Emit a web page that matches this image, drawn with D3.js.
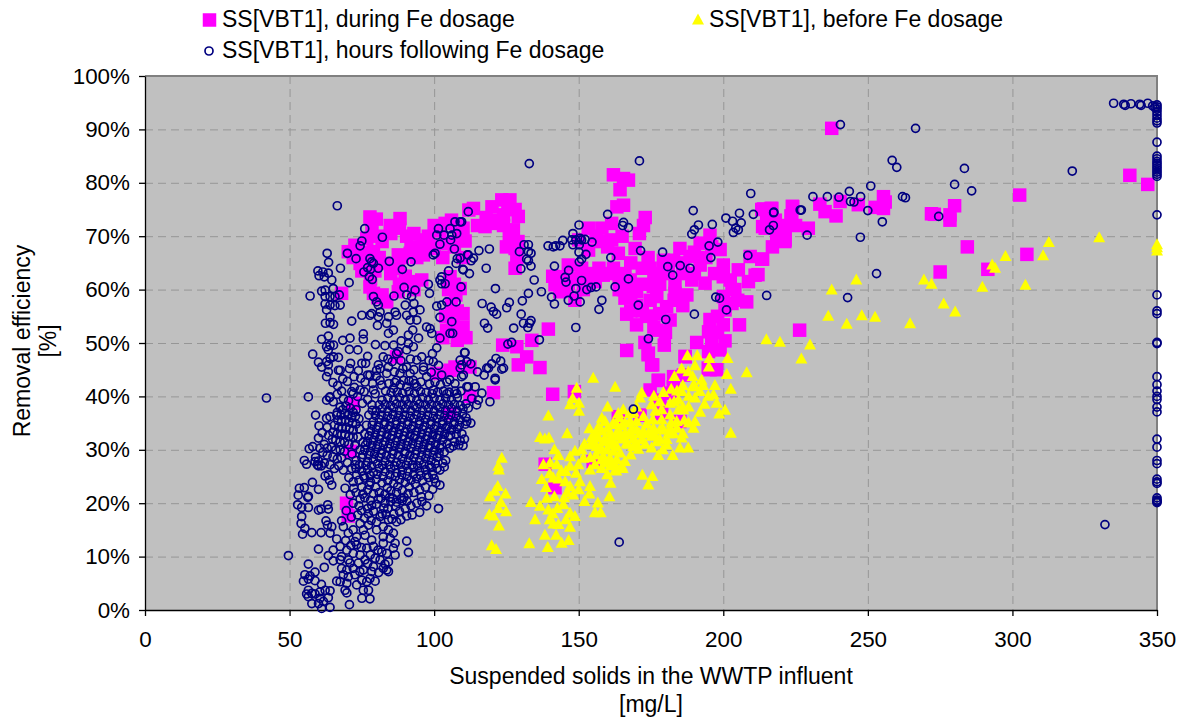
<!DOCTYPE html>
<html><head><meta charset="utf-8">
<script src="https://d3js.org/d3.v7.min.js"></script>
<style>html,body{margin:0;padding:0;background:#fff}svg{display:block}text{font-family:"Liberation Sans",Arial,sans-serif;fill:#000}</style>
</head><body><svg id="c" width="1183" height="717"></svg>
<script>
const seriesNames=["SS[VBT1], during Fe dosage","SS[VBT1], before Fe dosage","SS[VBT1], hours following Fe dosage"];
const xTickValues=[0,50,100,150,200,250,300,350];
const yTickValues=[0,10,20,30,40,50,60,70,80,90,100];
const xTitle=["Suspended solids in the WWTP influent","[mg/L]"];
const yTitle=["Removal efficiency","[%]"];
const during=[[237.5,90.2],[340.6,81.4],[346.8,79.7],[302.5,77.7],[284.4,68],[305,66.6],[291.5,63.8],[275,63.3],[226.4,52.4],[280,75.7],[278.4,74],[278.4,73],[272,74.2],[273,74.1],[255.4,77.4],[256,76.4],[255.4,75.2],[252.5,75.4],[246.7,75.9],[240.4,76.5],[239,73.8],[235.2,74.6],[233.4,76],[229.4,71.5],[223.9,75.6],[223.4,73.8],[216.5,75.2],[213.9,75.1],[221.3,71.8],[219.6,71.2],[218.5,70],[221.3,69],[213.6,71.8],[213.6,65.7],[212,62.8],
[162,81.5],[165.5,80.8],[167.2,80.5],[164.3,78.7],[163.2,75.5],[165.5,75.8],[173,73.5],[172.4,72],[171,70.5],[113.6,75.2],[120,75.5],[123.4,76.8],[126.2,76.8],[124,74],[129.1,73.7],[117.6,71.8],[120.5,72.4],[127.4,71.2],[110.7,69.1],[128,67.7],[128.6,65.9],[153.3,71.5],[158,71.5],[161.4,72.4],[161.4,69.3],[163.7,66.8],[169.5,67.7],[153.4,67.4],[150,69.3],[146.4,64.6],[141.8,60.9],[144.1,62.4],[146.4,61.2],[143.5,59.6],[148.7,58],[151.6,60],[154.5,63],[158.5,62.7],[155.7,61.5],[162,64],[166,63],[167.8,61.8],[174.7,64],[179.3,65.5],[185,67.7],[192,68.7],[195.4,70.2],[198.9,67.5],[192,64.6],[188.5,66.2],[182.8,65.5],[175.8,60.6],[183.3,61.2],[189.1,61.8],[193.7,61.2],[200,64.6],[200,62.4],[202.4,61.8],[205.2,63.7],[208.7,61.5],[211,62.7],[209.3,66.2],[213.3,65.7],[165.5,60],[170,59.6],[166,58.4],[174.7,58],[180.4,56.8],[177,58.7],[183.3,59.3],[187.4,59],[166.6,55.4],[170,53.4],[177,52.4],[173.5,55],[181.6,54.3],[200,58.7],[203,57.4],[200.6,56.2],[208.1,57.7],[195.4,54.4],[200,53.4],[194.9,52.1],[205.6,53.4],[190.8,50.1],[200.6,50.4],[198.9,48.7],[194.9,48.4],[139.5,52.6],[133.8,50.5],[123.7,49.6],[128.6,49.3],[132,47.4],[129.1,45.9],[136.6,45.4],[166.6,48.6],[179.6,49.6],[172.9,50.1],[174.1,48.1],[175.6,45.9],[186.8,47.4],[195.4,45],[197.7,45],[177.6,43],[182.8,43.7],[110,53],[120.5,40.7],[141,40.4],[148.5,40.9],[216.8,75.2],[213.3,75],[224,75.5],[223.7,73.7],[214.5,71.5],[218.5,69.6],[221.4,69.3],[221.4,71.5],
[77.8,73.6],[80,73.2],[88.2,73.3],[84.8,72],[76.7,69.6],[72.6,68.3],[70.3,67.1],[79,67.1],[74.4,64.9],[83,64.9],[87.6,66.5],[87.6,64],[91.7,66.8],[96.3,69.3],[96.3,66.5],[98.6,67.7],[103.8,72.4],[104.3,68.6],[109,70.5],[112,74.9],[77.8,60.5],[79,59.3],[83.6,57.7],[68,59.3],[91.1,61.5],[95.7,61.8],[87.6,59.6],[105.5,62.4],[109,60.2],[106,57.4],[110,55.5],[104.3,52.4],[109,52.7],[105.5,44.9],[107.2,45.5],[100.9,44.3],[87,47.4],[112.4,45.5],
[69.7,20],[70.3,17.6],[72,38.7],[71,29.7],[105.5,36.8],[112.4,40],[138.4,27.3],[141.8,22.9],[163.7,36.2],[155,27.8],[171.2,36.5],[174.7,41.2],[177.5,43],[182.7,41.8],[186.2,44],[186.8,47.5],[194.8,45.3],[181.6,40.6],[178.1,39.3],[185,35.3],[178.7,36.8],[174,47.8],[175.2,45.9],
[78.5,71.5],[80.5,70],[82,69],[85,70.5],[88,71.5],[90.5,70],[93,70.5],[95.5,68],[98,70],[100,72],[102,71],[106,73],[108,72],[110,71.5],[115,72],[118,73.5],[122,73],[125.5,75],[128,75],[76,67],[78,65.5],[81,66],[85,63],[89,66],[92,68],[94,66],[100,68],[103,66],[107,68],[110,66],[72,66],[75,63.5],[78,62],[79.5,63.5],[80.5,58.5],[82,59],[88,61],[90,62.5],[93,60],[105,60],[107,61],[107.5,59],[108,56],[104,55],[106.5,53.5],[108,50.5],[103,51],[111,51],
[126,70],[125,68],[129,69],[128,64],[124,72],[146,60],[141,62.5],[148,62],[150,62],[153,61],[151,64],[157,64],[160,63],[164,62],[164,60],[168,59],[172,61],[170,57],[168,56],[172,56],[175,55],[178,55.5],[176,53],[180,52],[178,61],[181,63],[186,63],[190,63],[186,65],[190,67],[194,66],[196,68],[197,63],[204,60],[198,55],[198,52],[196,50],[203,60],[205,58],[160,68],[156,70],[158,69],[165,70],[174,66],[176,62],[172,64],[168,65],[177,63],[183,58],[186,57],[215,73],[218,73],[220,72],[225,72],[217,68],[220,70.5]];
const before=[[330,69.7],[350,68.4],[350,67.2],[350,67.8],[312.6,68.8],[310.6,66.3],[297.6,66.2],[293,64.6],[294,64],[304.5,60.8],[289.6,60.4],[269.4,61.8],[272,61],[246,61.8],[237.5,59.9],[276.2,57.3],[280.2,55.8],[264.6,53.6],[236.3,55],[247.9,55.1],[252.5,54.8],[242.7,53.5],[214.9,50.6],[219.6,50.1],[230,49.6],[227,47],
[155,43.4],[162.6,41.7],[149.3,41.5],[147.9,39.6],[147,38.4],[150.1,38.7],[150.1,37.2],[139.5,36.3],[136.6,32.3],[138.3,32],[139.7,32.2],[146,33],[141.6,30],[143,28.9],[137.8,27.2],[140.1,27.5],[142.4,27.2],[147,28.7],[148.7,29.7],[151,30],[151.6,28.4],[149.9,27.2],[147,26.9],[145.5,25.9],[149.1,25.6],[150.4,24],[145.3,24],[141.2,24.7],[137.2,24.4],[138.7,22.9],[147,23.1],[148.1,21.5],[153.9,23.1],[153.7,21.7],[152,20.3],[156.6,20],[155.6,18.2],[157.6,18.2],[160.6,21.2],[161,23.7],[159.9,25.3],[157.9,26.5],[153.9,26.2],[162.6,26.1],[165.2,26.5],[172,25.2],[175.5,25],[174.1,23.4],[138.9,20.9],[141.6,21.2],[133.5,20.1],[136.6,19.4],[139.5,18.7],[142.6,19],[144.7,19.7],[147,18.1],[148.7,17.5],[145.6,16.9],[134.9,16.9],[140,16.9],[141.2,16.1],[138.3,14],[142.2,14],[144.1,12.5],[146.5,13],[139.3,11.7],[132.9,12.4],[119.9,12],[121.4,11.3],[122.4,15.7],[119.1,17.8],[120.5,17.6],[124.9,18.4],[122.2,19],[123.1,20.1],[119.3,21.2],[122,23.1],[121,22.2],[124.7,21.7],[122.4,26.2],[122.2,26.9],[123.4,28.4],
[160,38],[158,35.9],[159.1,35.3],[153.7,33.9],[156.8,34.2],[154.5,32.3],[156.8,32.2],[153.9,30.9],[156.2,30.6],[158.5,31.5],[160.8,33.1],[163.1,34.7],[165.4,37.5],[163.7,36.8],[167.7,36.8],[167.7,35.3],[170,35.3],[172.4,36.2],[171.2,39.7],[171.8,40.6],[175.2,38.4],[175.6,35.6],[178.7,37.5],[179.3,40.7],[182,41.3],[183.1,43.7],[185.6,45.1],[187.6,47.6],[191,47.6],[190.2,45.7],[187.9,44.6],[189.4,43.7],[185.6,40.9],[189.4,41.8],[191.9,40.9],[190.2,39.7],[195.2,47.1],[195,45.5],[201.5,47.1],[201.2,44.1],[208.1,44.4],[197.1,42],[202.6,41.3],[196.6,40.3],[194.8,40],[197.7,38.7],[200.6,37.4],[198.6,36.7],[202.6,33.1],[184.5,39.3],[181.6,38.7],[184.5,37.5],[186.2,37.5],[181.6,36.5],[178.7,35.6],[183.9,35.3],[181.6,34],[190.2,35.3],[189.7,34],[175.8,34],[178.1,33.7],[170,33.7],[172.4,33.4],[175.2,32.5],[180.4,31.9],[180.4,30.9],[185.6,32.2],[185,30.3],[187.9,30.3],[175.2,30.3],[177.5,28.9],[179.1,30],[182.5,28.9],[170.6,30.1],[168.9,30.6],[166.6,31.2],[171.8,31.9],[167.7,32.8],[164.3,33.1],[163.1,32.5],[160.8,30.9],[163.1,30.6],[159.7,30],[162,29.7],[164.3,29.4],[158.5,28.7],[160.8,28.4],[163.1,28.1],[166,27.8],[157.9,28.1],[159.7,27.5],[162.6,27.2],[164.9,26.9],[155.6,27.2],[161.5,31.8],[165,34.5],[168.5,34],[173.5,34.8],[177,31.5],[182.8,33],[186.5,35.5],[192.5,43],[193.5,38.5],[176.5,37.2],
[156,29],[157,30],[158,30],[155,31],[159,32],[161,32],[162,31],[163,33],[165,32],[166,33],[167,31],[169,32],[170,31],[168,29],[171,33],[173,31],[174,33],[176,33],[178,32],[179,34],[181,33],[182,35],[184,34],[186,33],[188,35],[186,38],[188,38],[184,41],[183,39],[186,42],[188,40],[190,42],[193,42],[192,37],[178,39],[176,40],[169,37],[170,38],[166,35],[164,36],[162,35],[160,34],[158,33.5],[156,33],[154,28.5],[152,31],[161,27],[163,26],[144,26],[143,24.5],[146,22],[140,25.5],[150,22.5],[145,21],[141,18],[143,16],[147,15.5]];
const following=[[240.5,90.9],[266.5,90.2],[258.4,84.2],[260,82.9],[283.4,82.7],[320.7,82.2],[280,79.7],[285.9,78.5],[251,79.4],[243.6,78.4],[231,77.4],[236,77.4],[240,77.3],[247.5,77.4],[244,76.5],[245.2,76.4],[227,74.9],[250,74.8],[262,77.4],[263,77.2],[217.4,74.4],[255,72.7],[274.5,73.7],[217.3,72],[216,71.2],[229,70.2],[247.4,69.8],[253,63],[243,58.5],[215,58.9],[332,16],[164,12.7],[168.9,37.6],[132.9,83.6],[171,84.1],
[335,94.9],[338.5,94.7],[339,94.5],[341,94.8],[344,94.7],[344.5,94.5],[346.8,94.9],[348.5,94.4],[349.3,94.1],
[350,94.6],[350,94.2],[350,93.8],[350,93.3],[350,92.7],[350,92.1],[350,91.6],[350,91.2],[350,87.6],[350,85],[350,84.5],[350,84],[350,83.6],[350,83.2],[350,82.8],[350,82.4],[350,82],[350,81.6],[350,81.2],[350,74],[350,59],[350,56],[350,55.5],[350,50.1],[350,49.9],[350,43.7],[350,42.2],[350,41],[350,40],[350,39.4],[350,38],[350,37.1],[350,32],[350,30.5],[350,28],[350,27.4],[350,24.5],[350,24],[350,23.7],[350,21],[350,20.6],[350,20.3],[350,20.1],[350,20.4],
[111.8,74.6],[109,72.7],[160,74.1],[165.5,72.6],[165.2,72],[167.2,71.6],[150.1,72.1],[148,70.5],[147.6,69.3],[149,69.3],[150.5,69.6],[152.2,69.4],[151,69.3],[154.6,68.9],[150.2,68.4],[148,68.4],[144.5,69.2],[143.5,68.2],[142,68.2],[141.2,68],[139.4,68.2],[131.1,68.4],[132.6,68.4],[129.5,67.1],[132.6,67.1],[133.5,66.8],[132,65.7],[132.6,65.4],[133.5,64.4],[130,63.9],[119.1,67.6],[115.5,67.3],[111.5,66.5],[113.6,65.9],[112.8,65.4],[109,65.9],[118,64],[110.1,63.7],[112.2,63],[150.1,67],[152.5,66.6],[151,65.7],[150.2,65.2],[141.6,64.4],[146.5,63.6],[145.3,62.3],[145.6,61.4],[151,61.7],[149,60.2],[152.8,60],[154.3,60.4],[156,60.5],[162.6,60.5],[167.2,62],[171.4,67.3],[161.1,66],[179,67],[180.8,64.3],[185.1,64.5],[188.5,64],[182.5,62.7],[195.7,66],[195.1,68.2],[198.1,68.9],[209.5,78],[189.6,74.8],[200.9,73.4],[203.2,72.8],[205.6,74.3],[206.2,72.5],[191.4,72.1],[190,71.2],[189.1,70.4],[196.2,72.2],[205.2,71.2],[204.3,71.5],[203.5,70.7],[210.4,74.1],[217.5,74.5],[226.6,74.9],[208.5,66.4],[197.4,58.6],[198.7,58.4],[201.1,56.2],[190,55.4],[180.1,54.4],[170.6,57.1],[174.1,50.8],[121.2,60.2],[116.6,57.4],[119.7,56.7],[120.5,55.9],[121.6,55.4],[126,57.6],[125.1,56.6],[130.5,57.9],[132.6,59.3],[137.1,59.6],[140.6,58.6],[141.6,57.3],[146.4,58],[148.4,58.8],[150.5,57.7],[158,58],[157,56.3],[134.6,61.8],[130.1,55.4],[130.9,53.7],[133.5,54.2],[133,53.7],[132.4,52.9],[127.5,52.8],[117.4,53.7],[118.5,52.8],[149,52.9],[136.4,50.6],[126.8,50.1],[125.5,49.8],[110.5,48.2],[112.7,46.1],[109,46.8],[111.3,46.5],[121.4,47.1],[123,46.6],[119.9,46.1],[118.2,45.3],[123.4,45.1],[124,45.3],[121.1,43.4],[121.1,43.1],[115,44.6],[117.3,44],[118.8,45.3],[109.5,43.7],[111.3,41.8],[114.2,41.8],[109,45.3],
[66.5,75.7],[76,71.4],[82.1,69.8],[75,69.1],[74.4,68.2],[70,66.8],[73,65.8],[63,66.8],[63.5,65.1],[67.6,64],[59.8,63.5],[61.5,63.3],[63.4,63.1],[60.2,62.6],[62,62.4],[64.6,61.8],[70.6,61.3],[77.8,65.8],[78.4,65.2],[77,64.1],[78,63.8],[75.7,63.3],[80.7,64],[79,64.9],[77.6,62.4],[78.6,61.9],[84.5,65.3],[89,63.8],[92,65.2],[57.1,58.8],[61.1,59.7],[62.3,59.9],[65.1,60.2],[62.3,58.7],[64,58.7],[65.7,58.7],[67.2,59],[62.3,57.3],[64,57.1],[65.7,57],[67.5,57.1],[62.8,56.2],[64,54.9],[62.4,53.7],[64,53.8],[65.2,53.5],[71.5,54.1],[75,55.2],[79,58.7],[80.1,57.7],[80.7,57.1],[78.4,55.5],[77.8,55.2],[81.3,55.8],[84.2,54.9],[86.5,55.8],[87,55.2],[83.6,53.7],[80.7,54.9],[80.4,53.3],[85.9,52.4],[84.2,51.8],[86.1,58.8],[89.6,60.4],[92.2,58.7],[90.5,59],[93.4,59.9],[90,57.1],[93,57.4],[95.1,56.2],[92.8,55.8],[90.5,55.2],[91.7,54.3],[94,54.3],[97.4,53],[98.6,52.7],[99.2,51.8],[92.6,52.4],[91.1,51.5],[94.6,50.9],[91.1,49.9],[98,61],[98.4,59.3],[100.9,56.9],[102.6,57.1],[104.4,57.7],[107.6,57.7],[102,54.8],[106.1,54],[105.5,51.8],[106.4,51.8],[102,50.9],[100.9,49.1],[99.4,48],[99.7,46.5],[109.3,60.5],[102.6,62.4],[102,61.8],[103.8,61.1],[102.6,61.1],[105,63.5],[109.9,63.8],[107.6,64.9],[108,65.8],[111.8,66.5],[107,67.6],[102,68.5],[100.9,70.2],[101.5,71.4],[103.4,70.2],[105.5,71.4],[106.1,70.2],[105.7,69.3],[107.8,70.5],[107.2,72.7],[109.5,72.7],[100.3,66.8],[99.7,66.5],
[70.9,50.9],[68.4,50.5],[75.5,51.7],[75.5,50.7],[61.1,50.7],[63.4,51.3],[62.8,49.3],[64,49.6],[65.2,49.6],[70.7,48.8],[63.4,48.7],[65.2,47.4],[66.9,47.3],[64,47.1],[58,47.9],[60,46.4],[62.8,46.5],[61.1,45.5],[63.4,45.9],[71.1,46.2],[70.7,45.2],[72.3,43.7],[75,46.2],[76.3,46.2],[77,44],[66.9,44.9],[67.5,44.9],[63.4,44.6],[62.8,43.7],[65,42.6],[56.5,39.9],[42,39.7],[64,39.9],[71.5,40.9],[72,40.5],[74.4,41.2],[79,41.2],[79.6,40.5],[81.3,43],[81.9,42.1],[84.2,45.5],[81.3,45.2],[83.6,44.3],[87,48],[87.6,48.4],[82.4,47.4],[80.7,45.9],[80.1,44.9],[77.8,44],[76.1,42.7],[90.5,45.5],[88.2,44.3],[91.7,44.3],[89.4,43],[92.8,43],[90.5,41.8],[94,41.8],[87,43],[85.9,41.5],[96.3,45.5],[94,46.8],[97.4,43.7],[95.7,47.4],[92.8,49.3],[90.5,48.7],[96.3,44.9],[99.7,41.2],[102.6,44],[104.4,42.7],[107.2,42.4],[110.1,44],[109.5,45.9],[110.7,48.2],[111.8,41.8],[107.8,40.5],[104.4,40.5],
[63.8,39.8],[62.8,39.3],[65.1,39],[64,36.2],[62.8,35.9],[66.3,36.5],[60.2,34.5],[67.5,38],[68.4,37.5],[69.5,38.2],[71,37.8],[72,37],[73,37.5],[66.5,37],[67.8,36.5],[69,36.8],[70.2,36.6],[71.5,36],[72.8,36.3],[74,35.8],[66.7,35.5],[68,35.3],[69.3,35.6],[70.5,35.2],[71.8,35],[73,34.8],[65.5,34.6],[67,34.3],[68.2,34],[69.5,34.2],[70.7,33.9],[72,33.7],[65,33.3],[66.5,33],[68,32.8],[69.2,32.9],[70.5,32.5],[72,32.4],[63.5,32.7],[64.8,32],[66,31.8],[67.5,31.5],[69,31.4],[70.5,31],[62,31],[63,30.3],[64.5,30.5],[66,30],[67.5,30],[69,29.7],[60.5,30.3],[61.5,29.5],[63,29],[65,28.7],[66.5,28.3],[68,28.5],[59,28.6],[60,27.9],[61,27],[62,27.5],[64,27.2],[65.5,26.5],[67,27],[55.1,28],[55.9,27.3],[58.8,27.8],[59.6,27.2],[60,27],[62.3,25.1],[63.4,25.3],[64.6,23.4],[63.8,24.3],[68.6,26.2],[71.5,26.5],[53.4,22.8],[55.1,22.9],[53,21.5],[60,22.6],[56.5,21.3],[56.3,21.1],[57.9,23.9],[52.8,19.7],[54.2,19.2],[56.5,19.2],[60,18.7],[60.9,18.9],[63.2,19.7],[63.4,18.9],[62.6,16.7],[54.2,17.5],[54,16.2],[55.3,15.3],[54.5,14.2],[57.7,14.5],[60.9,14.5],[63.1,15.9],[64,14.4],[66.3,13.3],[64.6,15.6],[68,16.7],[49.6,10.2],[60,11.4],[56.5,8.6],[62,8],[63.4,10.2],[65.1,11.2],[65.1,9.2],[58.8,7.1],[55.3,6.6],[57.1,6.4],[54.8,5.4],[56.5,5.8],[58.8,5.5],[61,4.8],[56.5,3.7],[55.9,3],[57.7,3.1],[56.5,2.5],[58.8,3],[60.5,3.4],[62.3,3.7],[64,3.6],[63.4,2.3],[57.7,1.2],[60,1.2],[61.1,0.3],[64,0.5],[61.7,1.6],[60.5,2.2],[69.2,22.8],[97.4,19.5],[101.5,19],[102,23.4],[91.1,10.8],[90.5,12.9],[86.5,10.3],[85.9,11.6],[84.2,7.2],[83.6,7.5],[82.4,7.8],[79.6,5.4],[77.8,5.9],[77.8,2.1],[75,2.2],[77.3,3.7],[75.5,3.7],[70.7,1],[69.8,3.2],[69.2,3.7],[66.3,5.4],[67.5,5.3],[69.8,5],[70.3,6.2],[73.2,4.7],[75,5.6],[76.7,5.3],[68,7.8],[68.6,6.6],[69.8,7.5],[72,7.8],[73.8,8.8],[76.1,9.4],[78.4,7.2],[79,8.1],[81.3,9.4],[68,10],[69.8,11.2],[67.5,11.9],[72,10.6],[74.4,10.3],[76.7,11.6],[79,11.9],[83.6,10.6],[86.5,12.5],[82.4,12.5],[73.2,12.2],[70.3,9.4],[75.5,7.5],[72.6,6.6],[67.5,9.4],[81.9,10.9],[84.2,9],[79.6,9.7],[73.2,13.7],[75.5,15],[78.4,13.1],[72,15],[74.4,16.2],[77.3,15.9],[80.1,15],[82.4,13.7],[84.8,13.4],[70.3,14.4],[68.6,15.6],[72.6,12.8],[76.1,14],[80.1,16.5],[82.4,15.6],[84.2,15],[85.9,14.4],[81.3,17.5],[84.2,16.9],[87,16.5],
[77,19],[74,19.5],[72,20],[79,18.5],[82,18],[84,19],[86,18],[88,18.5],[90,19],[92,19.5],[94,20],[83,20],[85,20.3],[87,20.2],[89,20.5],[80,19.8],[78,20.5],[76,21],[73,22],[75,23],[77,22.5],[79,21.8],[81,22],[83,21.7],[85,22.3],[87,22],[89,22.4],[91,21.8],[93,22],[95,22.5],[97,23],[72,24],[74,24.3],[76,24.7],[78,24],[80,24.5],[82,23.8],[84,24.2],[86,23.7],[88,24.4],[90,23.9],[92,24.3],[94,24.6],[96,24.2],[98,24.8],[100,24.6],[75,26],[77,26.3],[79,25.8],[81,26.5],[83,25.9],[85,26.4],[87,25.7],[89,26.2],[91,26],[93,26.6],[95,26],[97,26.3],[99,26.7],[101,26.5],[102,26.2],[103.5,26.8],[103,27.5],[104,28],[73,28],[75,28.5],[77,27.8],[79,28.2],[81,28.6],[83,27.9],[85,28.4],[87,27.7],[89,28.3],[91,27.9],[93,28.5],[95,28],[97,28.4],[99,28],[101,28.6],[76,30],[78,29.7],[80,30.2],[82,29.9],[84,30.3],[86,29.8],[88,30.2],[90,29.7],[92,30.3],[94,29.9],[96,30.1],[98,30.4],[100,29.9],[102,30.3],[77,31.5],[79,31.8],[81,32],[83,31.6],[85,32.1],[87,31.7],[89,32],[91,31.6],[93,32.2],[95,31.8],[97,32],[99,31.7],[101,32.2],[103,31.9],[105,32.5],[107,31.5],[109,31.7],[110,30.8],[110.5,32],[78,33.5],[80,33.8],[82,33.4],[84,33.9],[86,33.5],[88,33.8],[90,33.4],[92,33.9],[94,33.5],[96,33.8],[98,33.4],[100,33.9],[102,33.6],[104,34],[106,33.7],[108,33.9],[79,35.3],[81,35.7],[83,35.2],[85,35.8],[87,35.4],[89,35.7],[91,35.3],[93,35.8],[95,35.4],[97,35.7],[99,35.3],[101,35.8],[103,35.4],[105,35.7],[107,35.3],[109,35.6],[111,36],[111.8,37.8],[114.7,38.4],[115.3,39.3],[116.5,40.6],[119.3,39],[111.3,35.3],[112.7,35],[80,37.3],[82,37.7],[84,37.2],[86,37.8],[88,37.4],[90,37.7],[92,37.3],[94,37.8],[96,37.4],[98,37.7],[100,37.3],[102,37.8],[104,37.4],[106,37.7],[108,37.3],[110,37.7],[82,39.3],[84,39.7],[86,39.3],[88,39.8],[90,39.4],[92,39.7],[94,39.3],[96,39.8],[98,39.4],[100,39.7],[102,39.3],[104,39.7],[106,39.3],[108,39.8],
[78.4,19.6],[80.7,20.8],[82.6,19.1],[84.6,21.1],[86.8,19.4],[88.7,20.9],[90.6,20.4],[75.3,21.7],[77.6,23.4],[79.8,23],[81.6,20.9],[83.8,22.9],[85.7,20.9],[87.4,23.1],[89.6,21.1],[91.4,23],[93.5,23.6],[95.6,21.2],[74.4,20.8],[73.2,25.3],[75.6,25.1],[77.9,25.2],[80.3,25.4],[82.4,25],[84.7,25.3],[86.6,25],[88.8,25.3],[90.7,25],[92.9,25.4],[95.3,25.2],[97.4,25.3],[99.5,25.4],[74.2,27.2],[76.4,27.1],[78.3,27],[80.4,27.4],[82.2,27.1],[84.4,27.2],[86.3,27],[88.4,27.3],[90.3,27.1],[92.4,27.2],[94.3,27],[96.4,27.3],[98.3,27.1],[100.4,27.4],[75.3,29.1],[77.4,29],[79.4,29.2],[81.7,29.3],[83.5,29],[85.6,29.2],[87.6,29],[89.7,29.3],[91.6,29],[93.5,29.2],[95.7,29],[97.6,29.3],[99.6,29],[101.7,29.3],[103.5,29.6],[105.4,30.3],[76.3,30.9],[78.5,30.8],[80.5,31],[82.5,30.9],[84.6,31.1],[86.5,30.8],[88.5,31],[90.6,30.8],[92.5,31.1],[94.6,30.9],[96.5,31],[98.6,30.8],[100.5,31],[102.6,30.9],[104.5,31.1],[106.6,30.7],[108.5,30.9],[77.5,32.6],[79.6,32.8],[81.6,32.7],[83.7,32.8],[85.6,32.7],[87.7,32.9],[89.6,32.6],[91.7,32.8],[93.6,32.7],[95.7,32.9],[97.7,32.6],[99.6,32.8],[101.7,32.7],[103.6,32.9],[105.7,32.7],[107.6,32.9],[109.6,33],[78.6,34.6],[80.7,34.5],[82.7,34.7],[84.7,34.5],[86.8,34.7],[88.7,34.5],[90.8,34.7],[92.7,34.5],[94.8,34.7],[96.7,34.5],[98.8,34.7],[100.7,34.5],[102.8,34.7],[104.7,34.5],[106.8,34.7],[108.7,34.6],[110.8,34.8],[79.7,36.4],[81.7,36.5],[83.8,36.3],[85.7,36.6],[87.8,36.4],[89.8,36.5],[91.7,36.3],[93.8,36.6],[95.7,36.4],[97.8,36.5],[99.7,36.3],[101.8,36.6],[103.7,36.4],[105.8,36.5],[107.7,36.3],[109.8,36.7],[81,38.4],[83,38.5],[85,38.3],[87,38.6],[89,38.4],[91,38.5],[93,38.3],[95,38.6],[97,38.4],[99,38.5],[101,38.3],[103,38.6],[105,38.4],[107,38.5],[109,38.3],[111,38.6],[113,39.6],[83.2,41],[85.1,40.7],[87.2,40.8],[89.1,40.6],[91.3,40.9],[93.2,40.6],[95.3,40.9],[97.2,40.7],[99.3,40.5],[101.2,40.8],[103.2,41],[105.2,40.8],[107.2,41],[109.3,41],[84.3,42.4],[86.4,42.6],[88.3,42.2],[91.3,42.9],[93.3,42.4],[95.4,42.7],[98.4,42.3],[100.3,42.7],[102.2,42.2],[105.4,43.1],[86.2,44.6],[89.2,45.2],[93,45],[99,44.5],[101.5,45.8],[98.2,46.7],[85.5,46.5],[88.5,46.7],[91.8,47],[75.2,38.7],[77,39.4],[78.5,38.4],[73.5,40],[75.8,40.9],[70.4,39.2],[68.6,39.6],[74.4,30],[75.4,31.4],[76,33],[76.6,34.6],[77.4,36.5],[78.6,37.4],[72.6,30.8],[73.6,32.4],[74.2,33.9],[71.6,29.2],[72.6,27.2],[70,27.6],[70.5,24.8],[73,26.5],[72.2,22.8],[71,21.6],
[69.4,13],[71.2,12.1],[74.8,11.7],[77.9,10.3],[80.6,11.2],[83,8.6],[70.9,8.8],[74.3,7.2],[77,8.7],[80.8,7],[71.4,17.4],[73.6,17.8],[75.9,17.2],[78.2,16.8],[83.4,17.9],[85.4,17],[88.5,16.9],[74.9,18.6],[77.2,18],[69.6,18.6],[90.5,17.6],[92.4,17.8],[95,18.3],[95.8,20.3],[98.2,21.4],[99.5,22.6],[100.6,23.8],[66.6,42],[68.4,43.3],[70,42.8],[72.4,41.7],[74.6,43.4],[73.8,44.8],[78.7,42.4],[80,43.8],[84,47],[86,49.6],[88.6,50.4],[83,49.5],[79.7,49.7],[77,47.5],[73.6,48.7],[68,41],[66.5,40.4],[59,36.5],[61.3,33.2],[63,34.2],[58,30.6],[56.8,30.2],[60,32.2]];

const svg=d3.select("#c");
const x=d3.scaleLinear().domain([0,350]).range([145,1157]);
const y=d3.scaleLinear().domain([0,100]).range([610,76]);
const fontPx=23, tickPx=22.4;
svg.append("rect").attr("x",x(0)).attr("y",y(100)).attr("width",x(350)-x(0)).attr("height",y(0)-y(100)).attr("fill","#c0c0c0");
const grid=svg.append("g").attr("stroke","#969696").attr("stroke-width",1).attr("stroke-dasharray","8 5");
grid.selectAll(".gx").data(xTickValues.filter(v=>v>0&&v<350)).join("line").attr("x1",d=>x(d)+.5).attr("x2",d=>x(d)+.5).attr("y1",y(100)).attr("y2",y(0));
grid.selectAll(".gy").data(yTickValues.filter(v=>v>0&&v<100)).join("line").attr("x1",x(0)).attr("x2",x(350)).attr("y1",d=>y(d)+.5).attr("y2",d=>y(d)+.5);
svg.append("path").attr("d",`M${x(0)},${y(100)}H${x(350)}V${y(0)}`).attr("fill","none").attr("stroke","#808080").attr("stroke-width",2);
const gx=svg.append("g").attr("transform",`translate(0,${y(0)})`).call(d3.axisBottom(x).tickValues(xTickValues).tickSize(6).tickPadding(15).tickSizeOuter(0));
const gy=svg.append("g").attr("transform",`translate(${x(0)},0)`).call(d3.axisLeft(y).tickValues(yTickValues).tickFormat(d=>d+"%").tickSize(6).tickPadding(9).tickSizeOuter(0));
[gx,gy].forEach(g=>{g.selectAll("text").attr("font-size",tickPx).attr("font-family",'"Liberation Sans",Arial,sans-serif');g.selectAll("path,line").attr("stroke","#000").attr("stroke-width",1.3);});
const sq=13.5,triW=12,triH=11;
const squarePath=`M${-sq/2},${-sq/2}h${sq}v${sq}h${-sq}z`;
const triPath=`M0,${-triH*0.6}L${triW/2},${triH*0.4}H${-triW/2}z`;
svg.append("g").selectAll("path").data(during).join("path").attr("d",squarePath).attr("transform",d=>`translate(${x(d[0])},${y(d[1])})`).attr("fill","#ff00ff");
svg.append("g").selectAll("path").data(before).join("path").attr("d",triPath).attr("transform",d=>`translate(${x(d[0])},${y(d[1])})`).attr("fill","#ffff00");
svg.append("g").selectAll("circle").data(following).join("circle").attr("cx",d=>x(d[0])).attr("cy",d=>y(d[1])).attr("r",4).attr("fill","none").attr("stroke","#000080").attr("stroke-width",1.7);
// legend
const lg=svg.append("g").attr("font-size",fontPx);
lg.append("path").attr("d",squarePath).attr("transform","translate(209.5,20)").attr("fill","#ff00ff");
lg.append("text").attr("x",222).attr("y",27).text(seriesNames[0]);
lg.append("path").attr("d",triPath).attr("transform","translate(698,20)").attr("fill","#ffff00");
lg.append("text").attr("x",709).attr("y",27).text(seriesNames[1]);
lg.append("circle").attr("cx",209).attr("cy",51).attr("r",4).attr("fill","none").attr("stroke","#000080").attr("stroke-width",1.7);
lg.append("text").attr("x",222).attr("y",58).text(seriesNames[2]);
// titles
svg.append("text").attr("x",651).attr("y",684).attr("text-anchor","middle").attr("font-size",fontPx).text(xTitle[0]);
svg.append("text").attr("x",651).attr("y",712).attr("text-anchor","middle").attr("font-size",fontPx).text(xTitle[1]);
svg.append("text").attr("transform","translate(30,341) rotate(-90)").attr("text-anchor","middle").attr("font-size",fontPx).text(yTitle[0]);
svg.append("text").attr("transform","translate(56,341) rotate(-90)").attr("text-anchor","middle").attr("font-size",fontPx).text(yTitle[1]);
</script></body></html>
